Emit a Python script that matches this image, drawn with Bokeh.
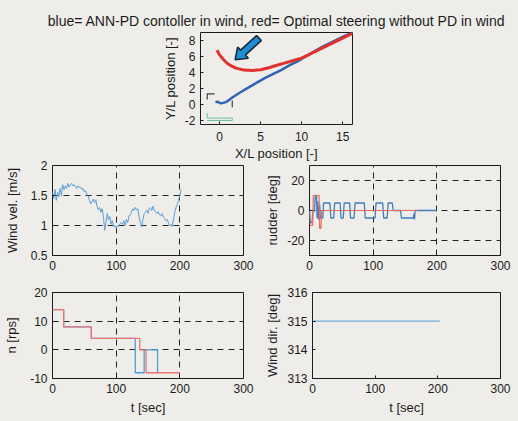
import numpy as np
from bokeh.plotting import figure
from bokeh.layouts import column, row
from bokeh.models import Range1d, FixedTicker, CustomJSTickFormatter
from bokeh.embed import file_html
from bokeh.resources import INLINE

# ---------------- data ----------------
title_text = "blue= ANN-PD contoller in wind, red= Optimal steering without PD in wind"

# trajectory (X/L, Y/L)
red_traj_x = [-0.3, 0.0, 0.5, 1.0, 1.5, 2.0, 3.0, 4.0, 5.0, 6.0, 7.0, 8.0, 9.0, 10.0,
              11.0, 12.0, 13.0, 14.0, 15.0, 16.0, 16.5]
red_traj_y = [6.8, 6.2, 5.6, 5.1, 4.8, 4.55, 4.3, 4.25, 4.35, 4.6, 4.9, 5.2, 5.5, 5.8,
              6.3, 6.8, 7.3, 7.8, 8.3, 8.8, 9.0]
blue_traj_x = [-0.5, -0.2, 0.1, 0.4, 0.8, 1.2, 1.6, 2.5, 3.5, 4.5, 5.5, 6.5, 7.5, 8.5,
               9.5, 10.5, 11.5, 12.5, 13.5, 14.5, 15.5, 16.3]
blue_traj_y = [0.3, 0.35, 0.15, 0.2, 0.3, 0.6, 0.9, 1.5, 2.1, 2.7, 3.3, 3.8, 4.3, 4.9,
               5.4, 6.0, 6.6, 7.2, 7.7, 8.2, 8.7, 9.0]
arrow_tail = [4.8, 8.3]
arrow_tip = [1.9, 5.6]
ship_dark_xs = [[-0.6, -1.5, -1.5], [1.55, 1.55]]
ship_dark_ys = [[1.33, 1.33, 0.62], [0.5, -0.33]]
ship_green_xs = [[-1.5, -1.5, 1.55, 1.55, -1.5]]
ship_green_ys = [[-1.04, -1.7, -1.7, -2.0, -2.0]]

# wind velocity
wind_t = [0, 2, 4, 6, 8, 10, 12, 14, 16, 18, 20, 22, 24, 26, 28, 30, 32, 34, 36, 38,
          40, 42, 44, 46, 48, 50, 52, 54, 56, 58, 60, 62, 64, 66, 68, 70, 72, 74, 76, 78,
          80, 82, 84, 86, 88, 90, 92, 94, 96, 98, 100, 102, 104, 106, 108, 110, 112, 114,
          116, 118, 120, 122, 124, 126, 128, 130, 132, 134, 136, 138, 140, 142, 144, 146,
          148, 150, 152, 154, 156, 158, 160, 162, 164, 166, 168, 170, 172, 174, 176, 178,
          180, 182, 184, 186, 188, 190, 192, 194, 196, 198, 200, 202]
wind_v = [1.55, 1.45, 1.6, 1.42, 1.55, 1.48, 1.62, 1.5, 1.68, 1.6, 1.66, 1.62, 1.7, 1.64,
          1.68, 1.7, 1.66, 1.68, 1.65, 1.62, 1.66, 1.63, 1.64, 1.6, 1.62, 1.56, 1.58, 1.52,
          1.5, 1.42, 1.36, 1.4, 1.44, 1.38, 1.43, 1.32, 1.26, 1.3, 1.22, 1.28, 1.15, 0.92,
          1.05, 1.2, 1.1, 1.15, 1.02, 1.08, 0.98, 1.0, 0.95, 1.0, 0.98, 1.03, 1.05, 1.02,
          1.08, 1.0, 1.1, 1.05, 1.15, 1.18, 1.22, 1.28, 1.25, 1.3, 1.26, 1.28, 1.15, 1.05,
          0.98, 1.1, 1.2, 1.22, 1.26, 1.2, 1.28, 1.3, 1.25, 1.32, 1.26, 1.22, 1.2, 1.23,
          1.18, 1.16, 1.2, 1.14, 1.12, 1.08, 1.1, 1.05, 1.0, 1.02, 0.98, 1.1, 1.22, 1.3,
          1.35, 1.42, 1.5, 1.6]

# rudder
rud_red_t = [0, 1, 5, 6, 15, 16, 18, 19, 170]
rud_red_v = [0, -10, -10, 10, 10, -12, -12, 0, 0]
rud_blue_t = [0, 1, 4, 5, 8, 9, 11, 12, 13, 14, 16, 17, 21, 22, 32, 33.5, 38, 39.5, 48,
              49.5, 53, 54.5, 63, 64.5, 70, 71.5, 86, 87.5, 103, 104.5, 115, 116.5, 122,
              123.5, 130, 131.5, 143, 144.5, 163, 164, 165, 166, 200]
rud_blue_v = [0, -8, -8, -2, 0, 10, 10, -5, 6, -6, 4, -5, -5, 5, 5, -5, -5, 5, 5,
              -5, -5, 5, 5, -5, -5, 5, 5, -5, -5, 5, 5, -5, -5,
              5, 5, 0, 0, -5, -5, -2, -6, 0, 0]

# propeller revolutions
n_red_t = [0, 17.5, 17.5, 61, 61, 137, 137, 147, 147, 200]
n_red_v = [14, 14, 8, 8, 4, 4, 0, 0, -8, -8]
n_blue_t = [0, 17.5, 17.5, 61, 61, 130, 130, 144, 144, 165, 165, 167]
n_blue_v = [14, 14, 8, 8, 4, 4, -8, -8, 0, 0, -8, -8]

# wind direction
dir_t = [0, 203]
dir_v = [315, 315]

# ---------------- styling ----------------
FONT = "Liberation Sans"
BG = "#eeede9"
INK = "#1c1c1c"
fmt = CustomJSTickFormatter(code="return tick.toString();")


def style_axis(axes, tick_standoff, label_standoff):
    axes.axis_line_color = None
    axes.major_tick_in = 3
    axes.major_tick_out = 0
    axes.major_tick_line_color = INK
    axes.minor_tick_line_color = None
    axes.major_label_text_font = FONT
    axes.major_label_text_font_size = "12px"
    axes.major_label_text_color = INK
    axes.major_label_standoff = tick_standoff
    axes.axis_label_text_font = FONT
    axes.axis_label_text_font_size = "13px"
    axes.axis_label_text_font_style = "normal"
    axes.axis_label_text_color = INK
    axes.axis_label_standoff = label_standoff
    axes.formatter = fmt


def make_fig(w, h, xr, yr, l, r, t, b, xticks, yticks, grid, title=None,
             xs=(5, 4), ys=(5, 6)):
    kw = dict(width=w, height=h, x_range=Range1d(*xr), y_range=Range1d(*yr),
              output_backend="svg", toolbar_location=None,
              min_border_left=l, min_border_right=r, min_border_top=t,
              min_border_bottom=b)
    if title:
        kw["title"] = title
    p = figure(**kw)
    p.background_fill_color = BG
    p.border_fill_alpha = 0
    p.outline_line_color = INK
    p.outline_line_width = 1
    style_axis(p.xaxis, *xs)
    style_axis(p.yaxis, *ys)
    p.xaxis.ticker = FixedTicker(ticks=xticks)
    p.yaxis.ticker = FixedTicker(ticks=yticks)
    if grid:
        p.grid.grid_line_color = "black"
        p.grid.grid_line_dash = "6 5"
        p.grid.grid_line_width = 1
        p.grid.grid_line_alpha = 0.85
    else:
        p.grid.visible = False
    if title:
        p.title.align = "center"
        p.title.text_font = FONT
        p.title.text_font_size = "14px"
        p.title.text_font_style = "normal"
        p.title.text_color = INK
        p.title.standoff = 8
    return p


T_TICKS = [0, 100, 200, 300]

# ---- top: trajectory ----
p_top = make_fig(518, 168, (-2.32, 16.2), (-2.5, 9.0), 200, 166, 32, 44,
                 [0, 5, 10, 15], [-2, 0, 2, 4, 6, 8], False, title=title_text,
                 xs=(7, 2), ys=(5, 4))
p_top.xaxis.axis_label = "X/L position [-]"
p_top.yaxis.axis_label = "Y/L position [-]"
p_top.multi_line(ship_dark_xs, ship_dark_ys, line_color="#3a3f48", line_width=1.2)
p_top.multi_line(ship_green_xs, ship_green_ys, line_color="#6cbfa8", line_width=1.0)
p_top.line(blue_traj_x, blue_traj_y, line_color="#2f64b4", line_width=2.5)
p_top.line(red_traj_x, red_traj_y, line_color="#e2312c", line_width=3)

tail = np.array(arrow_tail)
tip = np.array(arrow_tip)
d = tip - tail
u = d / np.hypot(*d)
nrm = np.array([-u[1], u[0]])
head_len, shaft_w, head_w = 1.3, 0.42, 0.95
base = tip - u * head_len
poly = [tail + nrm * shaft_w, base + nrm * shaft_w, base + nrm * head_w, tip,
        base - nrm * head_w, base - nrm * shaft_w, tail - nrm * shaft_w]
p_top.patch([q[0] for q in poly], [q[1] for q in poly], fill_color="#1e8ed4",
            line_color="#1b2838", line_width=1.6)

# ---- wind velocity ----
p_wind = make_fig(262, 126, (0, 300), (0.5, 2.0), 52, 19, 6, 25,
                  T_TICKS, [0.5, 1, 1.5, 2], True, ys=(5, 8))
p_wind.yaxis.axis_label = "Wind vel. [m/s]"
p_wind.line(wind_t, wind_v, line_color="#5b9fd6", line_width=1)

# ---- rudder ----
p_rud = make_fig(256, 126, (0, 300), (-30, 30), 46, 18, 11, 25,
                 T_TICKS, [-20, 0, 20], True, ys=(5, 4))
p_rud.yaxis.axis_label = "rudder [deg]"
p_rud.line(rud_blue_t, rud_blue_v, line_color="#3f7fc0", line_width=1.3)
p_rud.line(rud_red_t, rud_red_v, line_color="#ec6a5c", line_width=1.2)

# ---- propeller n ----
p_n = make_fig(262, 141, (0, 300), (-10, 20), 52, 19, 10, 43,
               T_TICKS, [-10, 0, 10, 20], True, ys=(5, 8))
p_n.yaxis.axis_label = "n [rps]"
p_n.xaxis.axis_label = "t [sec]"
p_n.line(n_blue_t, n_blue_v, line_color="#4a9fd8", line_width=1.3)
p_n.line(n_red_t, n_red_v, line_color="#f07474", line_width=1.3)

# ---- wind direction ----
p_dir = make_fig(256, 141, (0, 300), (313, 316), 46, 18, 12, 40,
                 T_TICKS, [313, 314, 315, 316], False, ys=(5, 4))
p_dir.yaxis.axis_label = "Wind dir. [deg]"
p_dir.xaxis.axis_label = "t [sec]"
p_dir.line(dir_t, dir_v, line_color="#6aaee0", line_width=1.3)

mid = row(p_wind, p_rud, styles={"margin-top": "-14px"})
bot = row(p_n, p_dir)
layout = column(p_top, mid, bot, styles={"background-color": BG})

open("out.html", "w").write(file_html(layout, INLINE))
